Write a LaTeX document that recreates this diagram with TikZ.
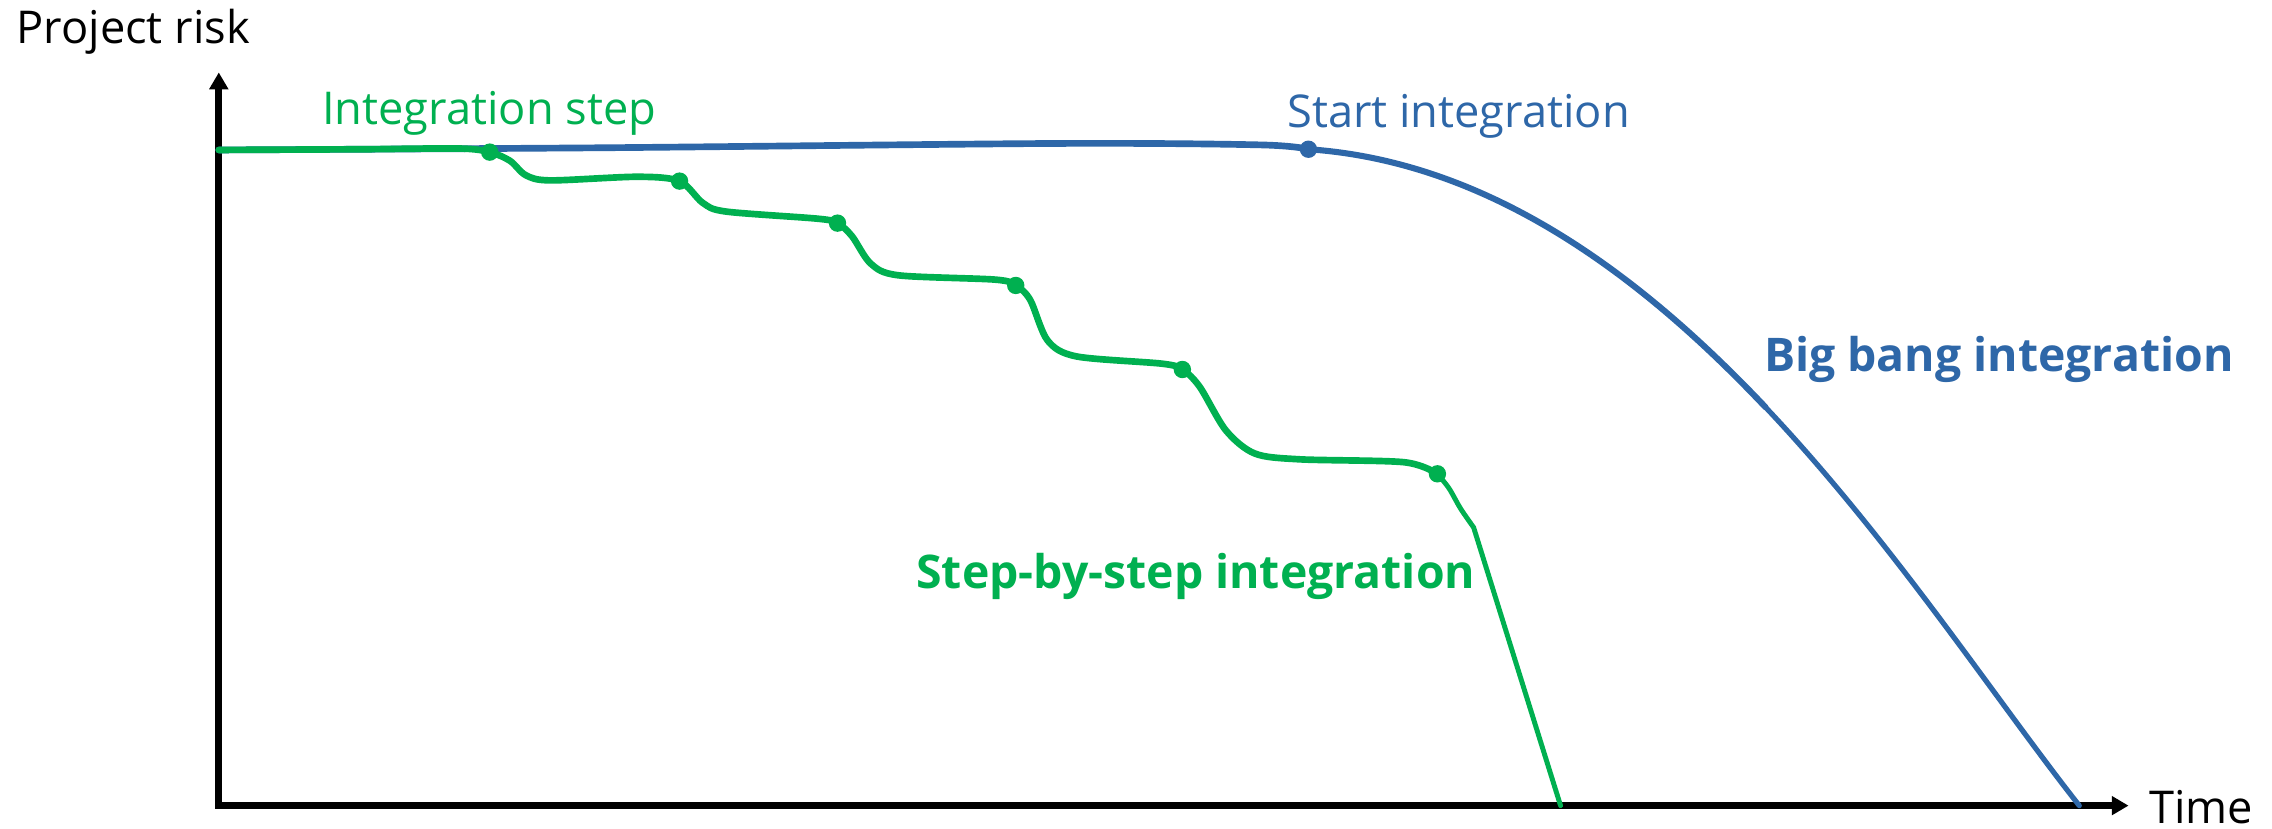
\documentclass[tikz,border=0pt]{standalone}
\usepackage{fontspec}
\setmainfont{Open Sans}
\usetikzlibrary{arrows.meta}
\definecolor{stepgreen}{HTML}{00B050}
\definecolor{bangblue}{HTML}{2E67A8}
\begin{document}
\begin{tikzpicture}[x=0.5pt,y=-0.5pt,
  lbl/.style={inner sep=0pt, anchor=base west, font=\fontsize{15.6}{19}\selectfont},
  boldlbl/.style={inner sep=0pt, anchor=base west, font=\fontsize{16}{19}\selectfont\bfseries},
  axisline/.style={line width=2.3pt, line join=miter, {Triangle[length=5.8pt,width=6.3pt]}-{Triangle[length=5.8pt,width=6.3pt]}},
  dotmark/.style={circle, inner sep=0pt, minimum size=6pt, fill=#1},
  thickcurve/.style={line width=2.3pt, line cap=round, line join=round},
  thincurve/.style={line width=1.7pt, line cap=round, line join=round}]
\useasboundingbox (0,0) rectangle (1568,572);
\fill[white] (0,0) rectangle (1568,572);

% axes
\coordinate (ytip) at (151,50);
\coordinate (origin) at (151,556);
\coordinate (xtip) at (1469,556);
\draw[axisline] (ytip) -- (origin) -- (xtip);

\node[lbl] (ylabel) at (11,30) {Project risk};
\node[lbl, text depth=0pt] (xlabel) at (1483,568) {Time};

% big bang curve
\coordinate (bstart) at (151,103.5);
\coordinate (bdot) at (903,103);
\coordinate (bmid) at (1218.5,281.1);
\coordinate (bend) at (1435,556);
\draw[bangblue, thickcurve] plot[smooth, tension=0.5] coordinates {(151,103.5) (414,102) (731,99) (870,100) (903,103)};
\draw[bangblue, line width=2.1pt, line cap=round] (bdot) .. controls (1026.5,111.5) and (1130.75,188.25) .. (bmid);
\draw[bangblue, line width=1.8pt, line cap=round] (bmid) .. controls (1306.25,374) and (1377.5,483) .. (bend);
\node[dotmark=bangblue] (sdot) at (bdot) {};

% step-by-step curve
\draw[stepgreen, thickcurve] plot[smooth, tension=0.5] coordinates {(151,103.5) (250,103) (317,102.5) (338,105) (352,111) (363,121) (380,124.5) (440,122) (469,125) (485,140) (501,146) (565,151) (578,154) (588,163) (601,182) (620,190) (687,193) (701,197) (711,207) (723,235) (743,246) (802,251) (816,255) (828,267) (846,297) (866,313) (897,317) (969,319) (992,327)};
\draw[stepgreen, thincurve] plot[smooth, tension=0.5] coordinates {(992,327) (1000,337) (1008,351) (1017,364)} -- (1077,556);
\node[dotmark=stepgreen] (g1) at (338,105) {};
\node[dotmark=stepgreen] (g2) at (469,125) {};
\node[dotmark=stepgreen] (g3) at (578,154) {};
\node[dotmark=stepgreen] (g4) at (701,197) {};
\node[dotmark=stepgreen] (g5) at (816,255) {};
\node[dotmark=stepgreen] (g6) at (992,327) {};

% labels
\node[lbl, text=stepgreen] (lstep) at (222,86) {Integration step};
\node[lbl, text=bangblue] (lstart) at (888,87.7) {Start integration};
\node[boldlbl, text=bangblue] (lbang) at (1217,256.6) {Big bang integration};
\node[boldlbl, text=stepgreen] (lsbs) at (632,406) {Step-by-step integration};
\end{tikzpicture}
\end{document}
